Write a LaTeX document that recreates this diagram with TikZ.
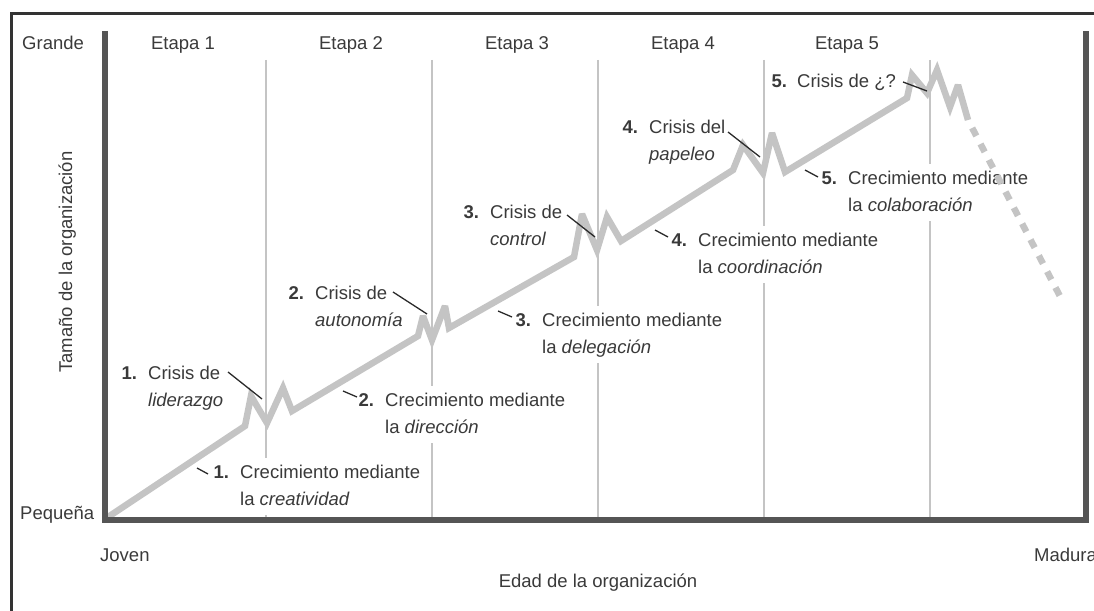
\documentclass[tikz,border=0pt]{standalone}
\usepackage{fontspec}
\setmainfont{Liberation Sans}
\definecolor{axisc}{HTML}{555555}
\definecolor{growc}{HTML}{C4C4C4}
\definecolor{vlinec}{HTML}{C4C4C4}
\definecolor{txtc}{HTML}{3A3A3A}
\definecolor{leadc}{HTML}{2A2A2A}
\definecolor{framec}{HTML}{333333}
\newcommand\twoline[3]{\begin{tabular}[t]{@{}p{26.5pt}@{}l@{}}\textbf{#1}&#2\\&#3\end{tabular}}
\newcommand\oneline[2]{\begin{tabular}[t]{@{}p{25.5pt}@{}l@{}}\textbf{#1}&#2\end{tabular}}
\begin{document}
\begin{tikzpicture}[x=1pt,y=-1pt,
  txt/.style={font=\fontsize{18.5}{27}\selectfont, text=txtc, inner sep=0pt},
  lbl/.style={txt, fill=white, inner xsep=1pt, inner ysep=1.5pt, anchor=base west},
  axisline/.style={draw=axisc, line width=6pt, line join=miter},
  stageline/.style={draw=vlinec, line width=2pt},
  growline/.style={draw=growc, line width=6.5pt, line join=miter, miter limit=3},
  lead/.style={draw=leadc, line width=1.3pt},
  framel/.style={draw=framec, line width=2.5pt, line join=miter}
]
\useasboundingbox (0,0) rectangle (1094,610);

% outer frame
\coordinate (fr1) at (11.5,615);
\coordinate (fr2) at (11.5,13.5);
\coordinate (fr3) at (1100,13.5);
\draw[framel] (fr1) -- (fr2) -- (fr3);

% stage separators
\foreach \x [count=\i] in {266,432,598,764,930}{
  \coordinate (vt\i) at (\x,60);
  \coordinate (vb\i) at (\x,518);
  \draw[stageline] (vt\i) -- (vb\i);
}

% axis and stage labels
\node[txt, anchor=base west] (grande) at (22,49) {Grande};
\node[txt, anchor=base west] (pequena) at (20,519) {Pequeña};
\node[txt, anchor=base west] (joven) at (100,561) {Joven};
\node[txt, anchor=base west] (madura) at (1034,561) {Madura};
\node[txt, anchor=base] (edad) at (598,587) {Edad de la organización};
\node[txt, anchor=base, rotate=90] (tamano) at (72,262) {Tamaño de la organización};
\node[txt, anchor=base] (etapa1) at (183,49) {Etapa 1};
\node[txt, anchor=base] (etapa2) at (351,49) {Etapa 2};
\node[txt, anchor=base] (etapa3) at (517,49) {Etapa 3};
\node[txt, anchor=base] (etapa4) at (683,49) {Etapa 4};
\node[txt, anchor=base] (etapa5) at (847,49) {Etapa 5};

% crisis labels
\node[lbl] (cr1) at (120.5,379) {\twoline{1.}{Crisis de}{\textit{liderazgo}}};
\node[lbl] (cr2) at (287.5,299) {\twoline{2.}{Crisis de}{\textit{autonomía}}};
\node[lbl] (cr3) at (462.5,218) {\twoline{3.}{Crisis de}{\textit{control}}};
\node[lbl] (cr4) at (621.5,133) {\twoline{4.}{Crisis del}{\textit{papeleo}}};
\node[lbl] (cr5) at (770.5,88) {\oneline{5.}{Crisis de ¿?}};

% growth labels
\node[lbl] (gr1) at (212.5,478) {\twoline{1.}{Crecimiento mediante}{la \textit{creatividad}}};
\node[lbl] (gr2) at (357.5,406) {\twoline{2.}{Crecimiento mediante}{la \textit{dirección}}};
\node[lbl] (gr3) at (514.5,326) {\twoline{3.}{Crecimiento mediante}{la \textit{delegación}}};
\node[lbl] (gr4) at (670.5,246) {\twoline{4.}{Crecimiento mediante}{la \textit{coordinación}}};
\node[lbl] (gr5) at (820.5,184) {\twoline{5.}{Crecimiento mediante}{la \textit{colaboración}}};

% growth curve points
\coordinate (p0) at (108,517);
\coordinate (c1a) at (245,426); \coordinate (c1b) at (251,396); \coordinate (c1c) at (267,423);
\coordinate (c1d) at (283,388); \coordinate (c1e) at (292,411);
\coordinate (c2a) at (418,336); \coordinate (c2b) at (423,316); \coordinate (c2c) at (432,340);
\coordinate (c2d) at (445,306); \coordinate (c2e) at (449,328);
\coordinate (c3a) at (574,257); \coordinate (c3b) at (582,214); \coordinate (c3c) at (597,250);
\coordinate (c3d) at (607,217); \coordinate (c3e) at (621,241);
\coordinate (c4a) at (733,170); \coordinate (c4b) at (743,145); \coordinate (c4c) at (763,173);
\coordinate (c4d) at (772,133); \coordinate (c4e) at (785,172);
\coordinate (c5a) at (907,98); \coordinate (c5b) at (912,75); \coordinate (c5c) at (927,93);
\coordinate (c5d) at (937,70); \coordinate (c5e) at (950,107); \coordinate (c5f) at (958,85);
\coordinate (c5g) at (968,120);
\coordinate (dend) at (1063,302);

\draw[growline] (p0) -- (c1a) -- (c1b) -- (c1c) -- (c1d) -- (c1e)
  -- (c2a) -- (c2b) -- (c2c) -- (c2d) -- (c2e)
  -- (c3a) -- (c3b) -- (c3c) -- (c3d) -- (c3e)
  -- (c4a) -- (c4b) -- (c4c) -- (c4d) -- (c4e)
  -- (c5a) -- (c5b) -- (c5c) -- (c5d) -- (c5e) -- (c5f) -- (c5g);
\draw[growline, dash pattern=on 9pt off 9pt, dash phase=9pt] (c5g) -- (dend);

% axes
\coordinate (axtl) at (105,31);
\coordinate (axbl) at (105,520);
\coordinate (axbr) at (1086,520);
\coordinate (axtr) at (1086,31);
\draw[axisline] (axtl) -- (axbl) -- (axbr) -- (axtr);

% leader lines: crises
\coordinate (l1s) at (228,372); \coordinate (l1e) at (262,399);
\coordinate (l2s) at (393,292); \coordinate (l2e) at (427,314);
\coordinate (l3s) at (567,215); \coordinate (l3e) at (595,237);
\coordinate (l4s) at (728,132); \coordinate (l4e) at (760,157);
\coordinate (l5s) at (903,82);  \coordinate (l5e) at (927,91);
\foreach \i in {1,...,5}{\draw[lead] (l\i s) -- (l\i e);}

% leader lines: growth
\coordinate (g1s) at (197,468); \coordinate (g1e) at (208,474);
\coordinate (g2s) at (343,391); \coordinate (g2e) at (357,397);
\coordinate (g3s) at (498,311); \coordinate (g3e) at (512,317);
\coordinate (g4s) at (655,230); \coordinate (g4e) at (668,237);
\coordinate (g5s) at (805,170); \coordinate (g5e) at (818,177);
\foreach \i in {1,...,5}{\draw[lead] (g\i s) -- (g\i e);}
\end{tikzpicture}
\end{document}
